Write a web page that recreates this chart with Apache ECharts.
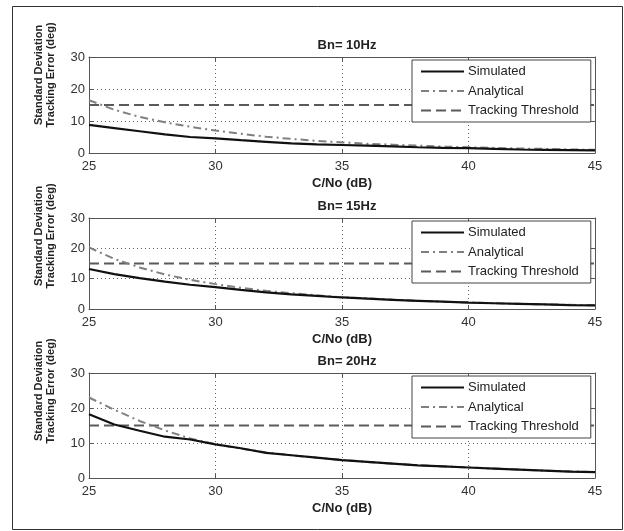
<!DOCTYPE html>
<html>
<head>
<meta charset="utf-8">
<script src="https://cdn.jsdelivr.net/npm/echarts@6/dist/echarts.min.js"></script>
<style>
  html, body { margin: 0; padding: 0; background: #fff; }
  #chart { width: 624px; height: 531px; }
</style>
</head>
<body>
<div id="chart"></div>
<script>
// C/No values (dB)
var cn = [25, 26, 27, 28, 29, 30, 31, 32, 33, 34, 35, 36, 37, 38, 39, 40, 41, 42, 43, 44, 45];
var xTicks = [25, 30, 35, 40, 45];
var threshold = 15;

// Bn = 10 Hz
var sim10 = [8.8, 7.8, 6.8, 5.8, 5.0, 4.6, 4.0, 3.5, 3.0, 2.7, 2.5, 2.3, 2.1, 1.8, 1.6, 1.5, 1.3, 1.1, 1.0, 0.9, 0.8];
var ana10 = [16.5, 13.5, 11.3, 9.6, 8.2, 7.0, 6.0, 5.1, 4.4, 3.8, 3.3, 2.9, 2.6, 2.3, 2.0, 1.8, 1.6, 1.4, 1.3, 1.1, 1.0];
// Bn = 15 Hz
var sim15 = [13.2, 11.5, 10.2, 9.0, 8.0, 7.2, 6.3, 5.5, 4.8, 4.3, 3.8, 3.4, 3.0, 2.7, 2.4, 2.1, 1.9, 1.7, 1.5, 1.3, 1.2];
var ana15 = [20.3, 16.5, 13.7, 11.4, 9.6, 8.2, 7.0, 6.0, 5.2, 4.5, 3.9, 3.5, 3.1, 2.7, 2.4, 2.2, 1.9, 1.7, 1.5, 1.4, 1.2];
// Bn = 20 Hz
var sim20 = [18.2, 15.3, 13.5, 11.8, 11.0, 9.6, 8.5, 7.2, 6.5, 5.8, 5.1, 4.6, 4.1, 3.6, 3.3, 3.0, 2.7, 2.4, 2.1, 1.8, 1.7];
var ana20 = [23.0, 19.5, 16.3, 13.6, 11.3, 9.6, 8.4, 7.3, 6.5, 5.8, 5.2, 4.6, 4.1, 3.7, 3.3, 3.0, 2.7, 2.4, 2.1, 1.9, 1.7];

var panels = [
  { title: 'Bn= 10Hz', sim: sim10, ana: ana10, top: 57, height: 96 },
  { title: 'Bn= 15Hz', sim: sim15, ana: ana15, top: 218, height: 91 },
  { title: 'Bn= 20Hz', sim: sim20, ana: ana20, top: 373, height: 105 }
];

var FONT = "'Liberation Sans', Arial, sans-serif";
var axisColor = '#555';

function pairs(vals) {
  return cn.map(function (c, i) { return [c, vals[i]]; });
}

var grids = [], xAxes = [], yAxes = [], series = [], titles = [], legends = [], graphics = [];

panels.forEach(function (p, i) {
  grids.push({ left: 89, width: 506, top: p.top, height: p.height, containLabel: false });

  titles.push({
    text: p.title, left: 342, top: p.top - 23, textAlign: 'center',
    textStyle: { fontFamily: FONT, fontSize: 13, fontWeight: 'bold', color: '#222' }
  });

  xAxes.push({
    type: 'value', gridIndex: i, min: 25, max: 45, interval: 5, position: 'bottom',
    name: 'C/No (dB)', nameLocation: 'middle', nameGap: 24,
    nameTextStyle: { fontFamily: FONT, fontSize: 13, fontWeight: 'bold', color: '#222' },
    axisLine: { show: true, onZero: false, lineStyle: { color: axisColor, width: 1 } },
    axisTick: { show: true, inside: true, length: 4, lineStyle: { color: axisColor } },
    axisLabel: { fontFamily: FONT, fontSize: 13, color: '#333', margin: 7,
      customValues: xTicks, showMinLabel: true, showMaxLabel: true },
    splitLine: { show: true, lineStyle: { color: '#666', type: [1, 3], width: 1 } }
  });
  xAxes.push({
    type: 'value', gridIndex: i, min: 25, max: 45, interval: 5, position: 'top',
    axisLine: { show: true, onZero: false, lineStyle: { color: axisColor, width: 1 } },
    axisTick: { show: true, inside: true, length: 4, lineStyle: { color: axisColor } },
    axisLabel: { show: false }, splitLine: { show: false }
  });
  yAxes.push({
    type: 'value', gridIndex: i, min: 0, max: 30, interval: 10, position: 'left',
    axisLine: { show: true, onZero: false, lineStyle: { color: axisColor, width: 1 } },
    axisTick: { show: true, inside: true, length: 4, lineStyle: { color: axisColor } },
    axisLabel: { fontFamily: FONT, fontSize: 13, color: '#333', margin: 4 },
    splitLine: { show: true, lineStyle: { color: '#666', type: [1, 3], width: 1 } }
  });
  yAxes.push({
    type: 'value', gridIndex: i, min: 0, max: 30, interval: 10, position: 'right',
    axisLine: { show: true, onZero: false, lineStyle: { color: axisColor, width: 1 } },
    axisTick: { show: true, inside: true, length: 4, lineStyle: { color: axisColor } },
    axisLabel: { show: false }, splitLine: { show: false }
  });

  series.push({
    name: 'Simulated', type: 'line', xAxisIndex: 2 * i, yAxisIndex: 2 * i,
    data: pairs(p.sim), symbol: 'none', z: 4,
    lineStyle: { color: '#111', width: 2.2 }, itemStyle: { color: '#111' }
  });
  series.push({
    name: 'Analytical', type: 'line', xAxisIndex: 2 * i, yAxisIndex: 2 * i,
    data: pairs(p.ana), symbol: 'none', z: 3,
    lineStyle: { color: '#808080', width: 2, type: [8, 4, 2, 4] }, itemStyle: { color: '#808080' }
  });
  series.push({
    name: 'Tracking Threshold', type: 'line', xAxisIndex: 2 * i, yAxisIndex: 2 * i,
    data: [[cn[0], threshold], [cn[cn.length - 1], threshold]], symbol: 'none', z: 2,
    lineStyle: { color: '#5a5a5a', width: 2, type: [10, 5] }, itemStyle: { color: '#5a5a5a' }
  });

  legends.push({
    data: ['Simulated', 'Analytical', 'Tracking Threshold'],
    orient: 'vertical', left: 412, top: p.top + 3,
    itemWidth: 43, itemHeight: 14, itemGap: 6.5,
    padding: [5, 12, 5, 8],
    backgroundColor: '#fff', borderColor: '#444', borderWidth: 1, borderRadius: 0,
    selectedMode: false,
    itemStyle: { color: 'rgba(0,0,0,0)', borderColor: 'rgba(0,0,0,0)', borderWidth: 0 },
    textStyle: { fontFamily: FONT, fontSize: 13, color: '#222', padding: [0, 0, 0, -1] }
  });

  graphics.push({
    type: 'text', x: 45, y: p.top + 18, rotation: Math.PI / 2,
    style: {
      text: 'Standard Deviation\nTracking Error (deg)',
      font: "bold 11px 'Liberation Sans Narrow', 'Liberation Sans', Arial, sans-serif",
      fill: '#222', textAlign: 'center', textVerticalAlign: 'middle', lineHeight: 12
    }
  });
});

graphics.push({
  type: 'rect', shape: { x: 12.5, y: 6.5, width: 610, height: 523 },
  style: { fill: 'none', stroke: '#333', lineWidth: 1 }, silent: true
});

var myChart = echarts.init(document.getElementById('chart'), null, { renderer: 'canvas' });
var option = {
  animation: false,
  backgroundColor: '#fff',
  title: titles,
  legend: legends,
  grid: grids,
  xAxis: xAxes,
  yAxis: yAxes,
  series: series,
  graphic: graphics
};
myChart.setOption(option);
</script>
</body>
</html>
